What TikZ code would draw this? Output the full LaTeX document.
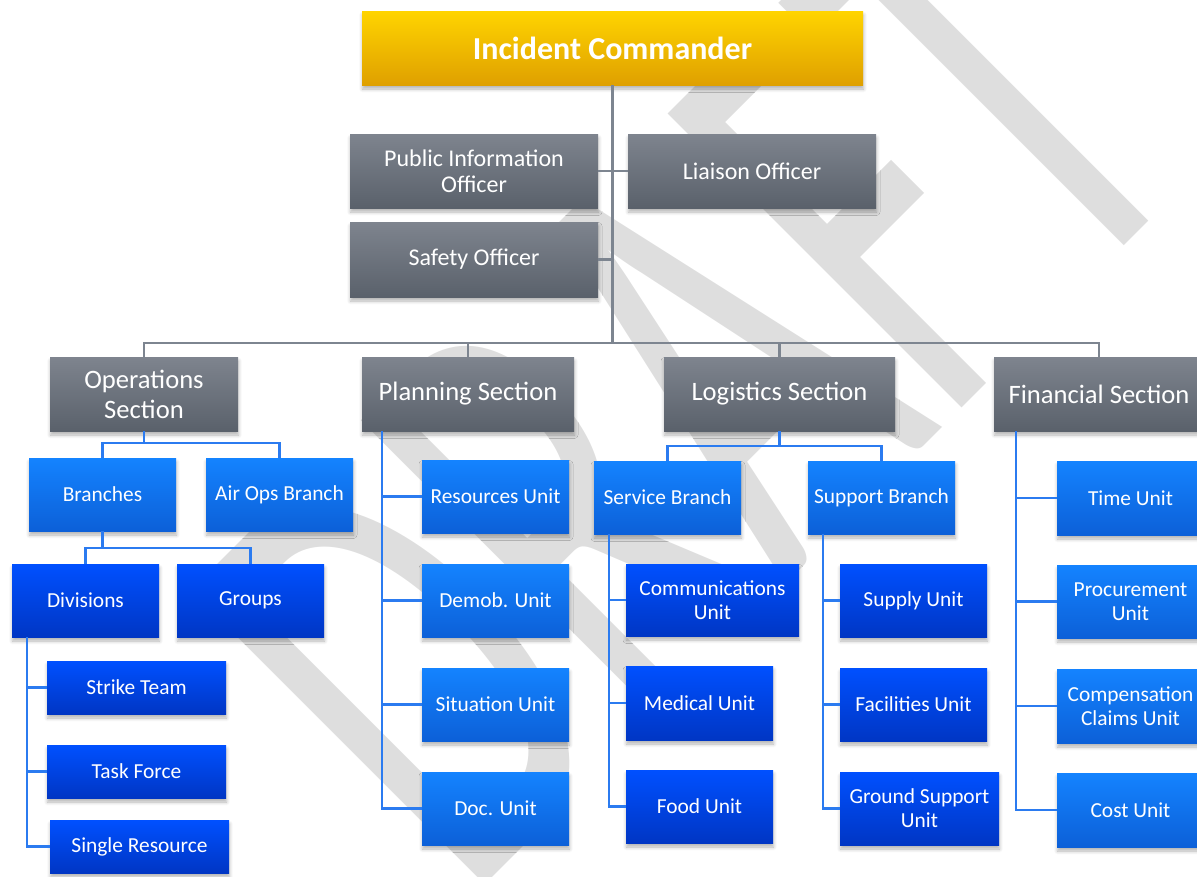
\documentclass[tikz,border=0pt]{standalone}
\usepackage{fontspec}
\usepackage{graphicx}
\setmainfont{Carlito}
\newfontfamily\wmfont{Carlito}
\usetikzlibrary{shadows.blur}

\definecolor{icTop}{HTML}{FFD400}
\definecolor{icBot}{HTML}{DFA000}
\definecolor{grTop}{HTML}{7E848E}
\definecolor{grBot}{HTML}{5A616B}
\definecolor{lbTop}{HTML}{1483FF}
\definecolor{lbBot}{HTML}{0C60D8}
\definecolor{dbTop}{HTML}{0050FF}
\definecolor{dbBot}{HTML}{0036C4}
\definecolor{gLine}{HTML}{7D8590}
\definecolor{bLine}{HTML}{2B7BF0}
\definecolor{wmGray}{HTML}{DEDEDE}

\tikzset{
  box/.style={rectangle, inner sep=1pt, align=center, text=white,
    blur shadow={shadow xshift=0.5pt, shadow yshift=-4pt,
      shadow blur radius=3.5pt, shadow blur steps=6, shadow opacity=30}},
  goldbox/.style={box, top color=icTop, bottom color=icBot,
    font=\fontsize{32}{36}\selectfont\bfseries},
  officer/.style={box, top color=grTop, bottom color=grBot,
    font=\fontsize{24}{26.5}\selectfont},
  section/.style={box, top color=grTop, bottom color=grBot,
    font=\fontsize{26.6}{30}\selectfont},
  lightunit/.style={box, top color=lbTop, bottom color=lbBot,
    font=\fontsize{21.4}{24}\selectfont},
  darkunit/.style={box, top color=dbTop, bottom color=dbBot,
    font=\fontsize{21.4}{24}\selectfont},
  gline/.style={draw=gLine, line width=2.2pt},
  bline/.style={draw=bLine, line width=2.4pt},
  watermark/.style={text=wmGray, inner sep=0pt,
    font=\wmfont\fontsize{648}{648}\selectfont},
}

\begin{document}
\begin{tikzpicture}[x=1pt, y=-1pt]
\useasboundingbox (0,0) rectangle (1197,876);
\clip (0,0) rectangle (1197,876);

% background watermark
\node[watermark, anchor=base west, rotate=45] (draft) at (466,904)
  {\scalebox{0.6}[1]{DRAFT}};

% command staff
\node[goldbox, minimum width=501pt, minimum height=74pt] (ic) at (612.5,48) {Incident Commander};
\node[officer, minimum width=248pt, minimum height=74pt] (pio) at (474,171) {Public Information\\Officer};
\node[officer, minimum width=248pt, minimum height=74pt] (liaison) at (752,171) {Liaison Officer};
\node[officer, minimum width=248pt, minimum height=75pt] (safety) at (474,259.5) {Safety Officer};

% general staff
\node[section, minimum width=188pt, minimum height=74pt] (ops) at (144,394) {Operations\\Section};
\node[section, minimum width=212pt, minimum height=74pt] (plan) at (468,394) {Planning Section};
\node[section, minimum width=231pt, minimum height=74pt] (log) at (779.5,394) {Logistics Section};
\node[section, minimum width=210pt, minimum height=74pt] (fin) at (1099,394) {Financial Section};

% operations
\node[lightunit, minimum width=147pt, minimum height=73pt] (branches) at (102.5,494.5) {Branches};
\node[lightunit, minimum width=147pt, minimum height=73pt] (airops) at (279.5,494.5) {Air Ops Branch};
\node[darkunit, minimum width=147pt, minimum height=73pt] (divisions) at (85.5,600.5) {Divisions};
\node[darkunit, minimum width=147pt, minimum height=73pt] (groups) at (250.5,600.5) {Groups};
\node[darkunit, minimum width=179pt, minimum height=53pt] (strike) at (136.5,687.5) {Strike Team};
\node[darkunit, minimum width=179pt, minimum height=53pt] (taskforce) at (136.5,771.5) {Task Force};
\node[darkunit, minimum width=179pt, minimum height=53pt] (single) at (139.5,846.5) {Single Resource};

% planning
\node[lightunit, minimum width=147pt, minimum height=73pt] (resources) at (495.5,496.5) {Resources Unit};
\node[lightunit, minimum width=147pt, minimum height=73pt] (demob) at (495.5,600.5) {Demob. Unit};
\node[lightunit, minimum width=147pt, minimum height=73pt] (situation) at (495.5,704.5) {Situation Unit};
\node[lightunit, minimum width=147pt, minimum height=73pt] (doc) at (495.5,808.5) {Doc. Unit};

% logistics
\node[lightunit, minimum width=147pt, minimum height=73pt] (service) at (667.5,497.5) {Service Branch};
\node[lightunit, minimum width=147pt, minimum height=73pt] (support) at (881.5,497.5) {Support Branch};
\node[darkunit, minimum width=173pt, minimum height=72pt] (comms) at (712.5,600) {Communications\\Unit};
\node[darkunit, minimum width=147pt, minimum height=74pt] (medical) at (699.5,703) {Medical Unit};
\node[darkunit, minimum width=147pt, minimum height=73pt] (food) at (699.5,806.5) {Food Unit};
\node[darkunit, minimum width=147pt, minimum height=73pt] (supply) at (913.5,600.5) {Supply Unit};
\node[darkunit, minimum width=147pt, minimum height=73pt] (facilities) at (913.5,704.5) {Facilities Unit};
\node[darkunit, minimum width=159pt, minimum height=73pt] (ground) at (919.5,808.5) {Ground Support\\Unit};

% finance
\node[lightunit, minimum width=147pt, minimum height=74pt] (time) at (1130.5,498) {Time Unit};
\node[lightunit, minimum width=147pt, minimum height=73pt] (procure) at (1130.5,601.5) {Procurement\\Unit};
\node[lightunit, minimum width=147pt, minimum height=74pt] (claims) at (1130.5,706) {Compensation\\Claims Unit};
\node[lightunit, minimum width=147pt, minimum height=74pt] (cost) at (1130.5,810) {Cost Unit};

% command connectors
\coordinate (bus) at (612.5,343);
\draw[gline] (ic.south) -- (bus);
\draw[gline] (pio.east) -- (pio.east -| ic.south);
\draw[gline] (liaison.west) -- (liaison.west -| ic.south);
\draw[gline] (safety.east) -- (safety.east -| ic.south);
\draw[gline] (ops.north) |- (bus) -| (fin.north);
\draw[gline] (plan.north) -- (plan.north |- bus);
\draw[gline] (log.north) -- (log.north |- bus);

% operations connectors
\draw[bline] (ops.south) -- ++(0,12) -| (branches.north);
\draw[bline] (ops.south) -- ++(0,12) -| (airops.north);
\draw[bline] (branches.south) -- ++(0,17) -| (divisions.north);
\draw[bline] (branches.south) -- ++(0,17) -| (groups.north);
\draw[bline] ([xshift=15pt]divisions.south west) |- (strike.west);
\draw[bline] ([xshift=15pt]divisions.south west) |- (taskforce.west);
\draw[bline] ([xshift=15pt]divisions.south west) |- (single.west);

% planning connectors
\draw[bline] ([xshift=20pt]plan.south west) |- (resources.west);
\draw[bline] ([xshift=20pt]plan.south west) |- (demob.west);
\draw[bline] ([xshift=20pt]plan.south west) |- (situation.west);
\draw[bline] ([xshift=20pt]plan.south west) |- (doc.west);

% logistics connectors
\draw[bline] (log.south) -- ++(0,15) -| (service.north);
\draw[bline] (log.south) -- ++(0,15) -| (support.north);
\draw[bline] ([xshift=15pt]service.south west) |- (comms.west);
\draw[bline] ([xshift=15pt]service.south west) |- (medical.west);
\draw[bline] ([xshift=15pt]service.south west) |- (food.west);
\draw[bline] ([xshift=15pt]support.south west) |- (supply.west);
\draw[bline] ([xshift=15pt]support.south west) |- (facilities.west);
\draw[bline] ([xshift=15pt]support.south west) |- (ground.west);

% finance connectors
\draw[bline] ([xshift=22pt]fin.south west) |- (time.west);
\draw[bline] ([xshift=22pt]fin.south west) |- (procure.west);
\draw[bline] ([xshift=22pt]fin.south west) |- (claims.west);
\draw[bline] ([xshift=22pt]fin.south west) |- (cost.west);
\end{tikzpicture}
\end{document}
